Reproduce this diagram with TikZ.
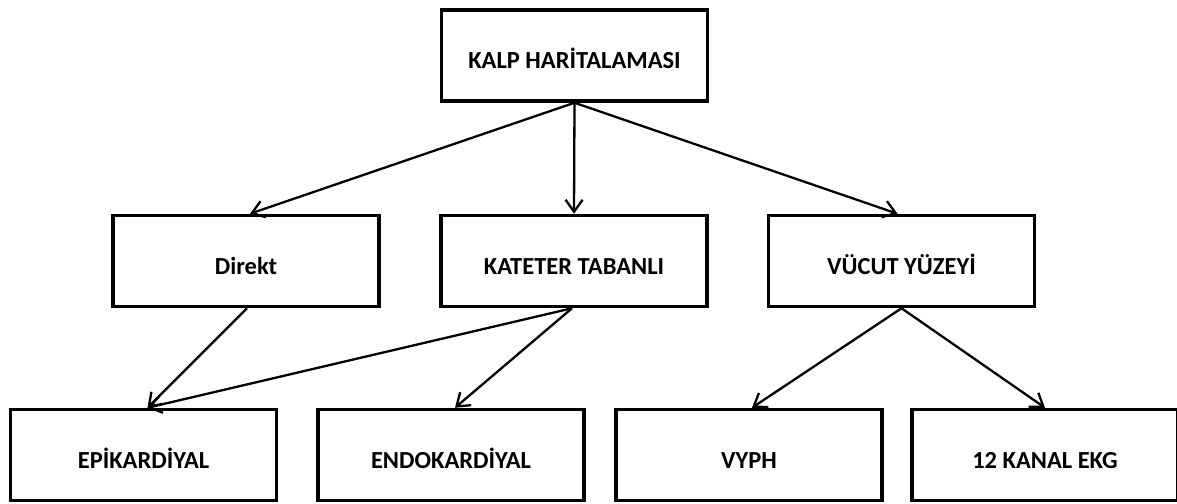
\documentclass[tikz,border=0pt]{standalone}
\usepackage{fontspec}
\setmainfont{Carlito}
\usetikzlibrary{arrows.meta}
\begin{document}
\begin{tikzpicture}[x=1pt,y=-1pt,
  box/.style={draw=black, line width=3.5pt, minimum width=266pt, minimum height=91pt, inner sep=0pt},
  lbl/.style={anchor=base, font=\bfseries\fontsize{24.5}{28}\selectfont, inner sep=0pt},
  conn/.style={draw=black, line width=2.3pt, -{Straight Barb[length=12pt,width=17pt,line width=2.3pt]}}]
\useasboundingbox (0,0) rectangle (1177,503);
\node[box] (top) at (574.5,55.5) {};
\node[box] (direkt) at (246,261) {};
\node[box] (kat) at (574,261) {};
\node[box] (vuc) at (901.5,261) {};
\node[box] (epi) at (143.5,455) {};
\node[box] (endo) at (451,455) {};
\node[box] (vyph) at (749,455) {};
\node[box] (ekg) at (1045,455) {};
\node[lbl] (ttop) at ([yshift=-13pt]top.center) {KALP HARİTALAMASI};
\node[lbl] (tdirekt) at ([yshift=-13pt]direkt.center) {Direkt};
\node[lbl] (tkat) at ([yshift=-13pt]kat.center) {KATETER TABANLI};
\node[lbl] (tvuc) at ([yshift=-13pt]vuc.center) {VÜCUT YÜZEYİ};
\node[lbl] (tepi) at ([yshift=-13pt]epi.center) {EPİKARDİYAL};
\node[lbl] (tendo) at ([yshift=-13pt]endo.center) {ENDOKARDİYAL};
\node[lbl] (tvyph) at ([yshift=-13pt]vyph.center) {VYPH};
\node[lbl] (tekg) at ([yshift=-13pt]ekg.center) {12 KANAL EKG};
\draw[conn] (top.south) -- ([xshift=4pt]direkt.north);
\draw[conn] (top.south) -- (kat.north);
\draw[conn] (top.south) -- ([xshift=-4pt]vuc.north);
\draw[conn] ([xshift=1pt]direkt.south) -- ([xshift=4pt]epi.north);
\draw[conn] ([xshift=-2pt]kat.south) -- ([xshift=4pt]epi.north);
\draw[conn] ([xshift=-2pt]kat.south) -- ([xshift=4pt]endo.north);
\draw[conn] (vuc.south) -- ([xshift=3pt]vyph.north);
\draw[conn] (vuc.south) -- (ekg.north);
\end{tikzpicture}
\end{document}
